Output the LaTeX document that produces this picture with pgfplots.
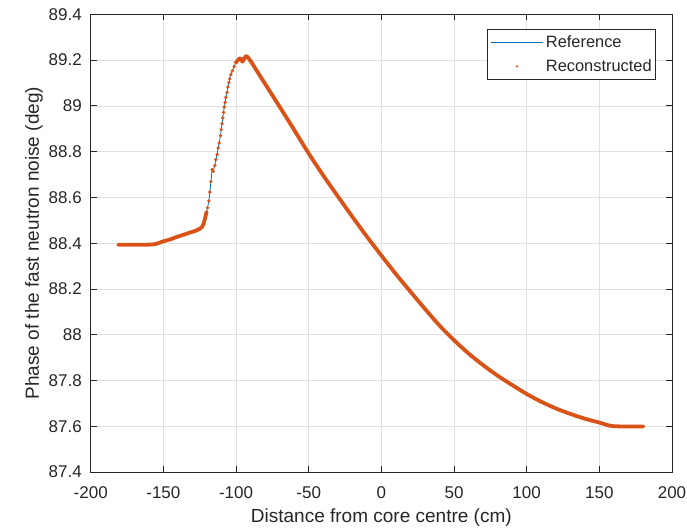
\documentclass[border=0pt]{standalone}
\usepackage{fontspec}
\setmainfont{Liberation Sans}
\usepackage{pgfplots}
\usepackage{pgfplotstable}
\pgfplotsset{compat=1.18}

\definecolor{mblue}{RGB}{0,114,189}
\definecolor{morange}{RGB}{217,83,25}
\definecolor{mgrid}{RGB}{225,225,225}
\definecolor{maxis}{RGB}{38,38,38}

% flat part and slow rise on the left
\pgfplotstableread{
x y
-181.0 88.393
-170.0 88.393
-158.0 88.394
-154.0 88.399
-150.0 88.408
-145.0 88.417
-140.9 88.427
-136.0 88.437
-131.8 88.446
-127.5 88.455
-124.9 88.463
-123.5 88.470
-122.5 88.482
-121.8 88.496
-121.2 88.512
-120.3 88.536
}\tabLeft

% steep rise, where the single dots can be seen
\pgfplotstableread{
x y
-120.3 88.536
-119.6 88.555
-118.7 88.584
-118.0 88.623
-117.3 88.668
-116.4 88.722
-115.7 88.714
-114.6 88.739
-113.9 88.765
-113.0 88.787
-112.3 88.816
-111.6 88.838
-110.7 88.870
-110.2 88.896
-109.6 88.922
-109.1 88.947
-108.6 88.971
-108.1 88.995
-107.5 89.015
-107.0 89.037
-106.2 89.059
-105.6 89.082
-104.9 89.102
-104.3 89.118
-103.6 89.136
-102.5 89.153
-101.3 89.172
-100.1 89.189
}\tabSteep

% peak and the long fall
\pgfplotstableread{
x y
-100.1 89.189
-98.5 89.201
-96.9 89.208
-95.6 89.193
-94.3 89.207
-92.8 89.218
-90.0 89.196
-86.0 89.156
-80.0 89.096
-70.0 88.996
-60.0 88.895
-50.0 88.792
-40.0 88.696
-30.0 88.605
-20.0 88.516
-10.0 88.429
0.0 88.346
10.0 88.265
20.0 88.188
30.0 88.113
40.0 88.040
50.0 87.976
60.0 87.918
70.0 87.867
80.0 87.821
90.0 87.780
100.0 87.741
110.0 87.707
120.0 87.678
130.0 87.654
140.0 87.633
150.0 87.616
158.5 87.601
170.0 87.599
180.3 87.599
}\tabRight

\begin{document}
\begin{tikzpicture}
\begin{axis}[
  scale only axis,
  width=581.3pt, height=457.7pt,
  xmin=-200, xmax=200, ymin=87.4, ymax=89.4,
  xtick={-200,-150,-100,-50,0,50,100,150,200},
  xticklabels={-200,-150,-100,-50,0,50,100,150,200},
  ytick={87.4,87.6,87.8,88,88.2,88.4,88.6,88.8,89,89.2,89.4},
  yticklabels={87.4,87.6,87.8,88,88.2,88.4,88.6,88.8,89,89.2,89.4},
  grid=major,
  grid style={mgrid, line width=0.6pt},
  axis line style={maxis, line width=0.7pt},
  tick style={maxis, line width=0.7pt},
  major tick length=6pt,
  tick align=inside,
  ticklabel style={font=\fontsize{17}{20}\selectfont, text=maxis},
  xticklabel style={anchor=north, inner sep=0pt, yshift=-14pt},
  yticklabel style={anchor=east, inner sep=0pt, xshift=-8.7pt},
  label style={font=\fontsize{19}{22}\selectfont, text=maxis},
  xlabel={Distance from core centre (cm)},
  ylabel={Phase of the fast neutron noise (deg)},
  xlabel style={at={(rel axis cs:0.5,-0.1005)}, anchor=center},
  ylabel style={at={(rel axis cs:-0.0975,0.5)}, anchor=center},
  legend style={font=\fontsize{16.4}{19}\selectfont, text=maxis,
    draw=maxis, line width=0.6pt,
    at={(rel axis cs:1,1)}, anchor=north east, xshift=-16pt, yshift=-14.7pt,
    inner xsep=2.5pt, inner ysep=4.5pt, row sep=8pt,
    nodes={inner sep=1.5pt}},
  legend cell align=left,
]

\addplot[mblue, line width=0.8pt, legend image code/.code={\draw[mblue, line width=0.8pt] (1.5pt,0pt) -- (53.5pt,0pt); \path[draw=none] (0pt,0pt) -- (55pt,0pt);}] table[x=x, y=y] {\tabLeft};
\addlegendentry{Reference}
\addplot[mblue, line width=0.8pt, forget plot] table[x=x, y=y] {\tabSteep};
\addplot[mblue, line width=0.8pt, smooth, forget plot] table[x=x, y=y] {\tabRight};

\addplot[morange, line width=3.8pt, line join=round, line cap=round, smooth, forget plot] table[x=x, y=y] {\tabLeft};
\addplot[morange, line width=3.8pt, line join=round, line cap=round, smooth, forget plot] table[x=x, y=y] {\tabRight};
\addplot[morange, only marks, mark=*, mark size=1.5pt,
  legend image code/.code={\fill[morange, draw=none] (27.5pt,0pt) circle (1.3pt); \path[draw=none, fill=none] (0pt,0pt) -- (55pt,0pt);}]
  table[x=x, y=y] {\tabSteep};
\addlegendentry{Reconstructed}

\end{axis}
\path (-90.7pt,-56pt) rectangle (596.3pt,472pt);
\end{tikzpicture}
\end{document}
